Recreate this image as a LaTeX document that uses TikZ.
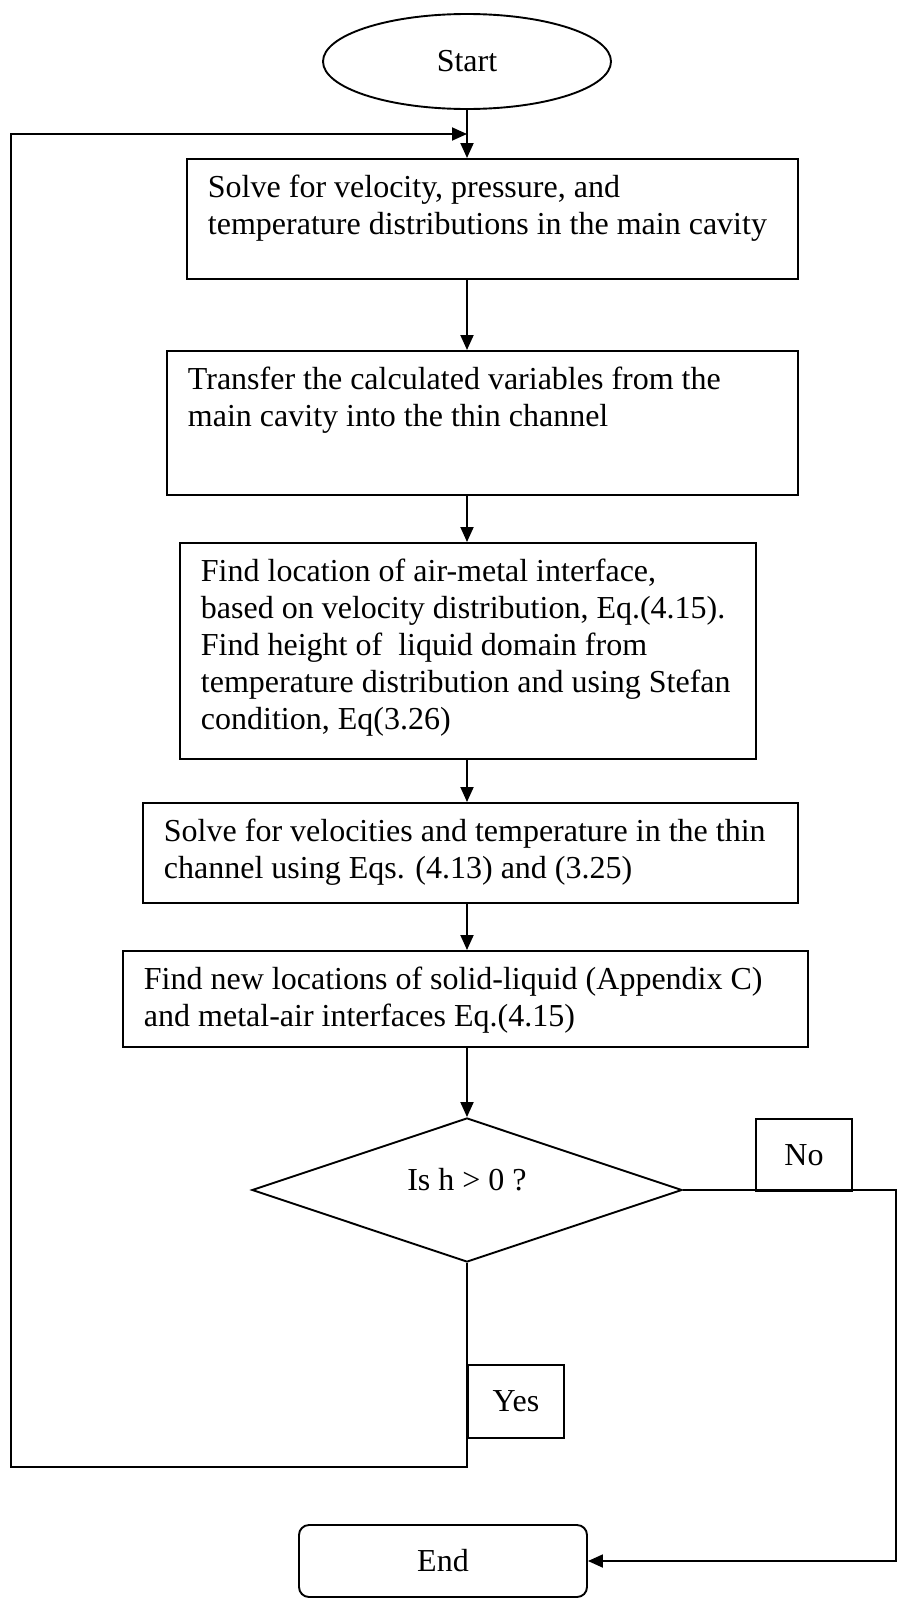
\documentclass[tikz,border=0pt]{standalone}
\usepackage{fontspec}
\setmainfont{Liberation Serif}
\usetikzlibrary{arrows.meta,positioning,shapes.geometric}

\begin{document}
\begin{tikzpicture}[
  x=1pt, y=-1pt,
  font=\fontsize{32}{37}\selectfont,
  line width=1.9pt,
  proc/.style={draw, line width=1.9pt, anchor=north west, inner sep=0pt},
  txt/.style={anchor=base west, inner sep=0pt, align=left},
  tag/.style={draw, line width=1.9pt, anchor=north west, inner sep=0pt,
              minimum width=96pt, minimum height=72pt},
  arr/.style={-{Triangle[length=15pt,width=13pt]}, line width=1.9pt}
]
\useasboundingbox (0,0) rectangle (899,1606);

% Terminals
\node[draw, ellipse, minimum width=288pt, minimum height=95pt, inner sep=0pt] (start) at (467,61.5) {Start};
\node[draw, rounded corners=10pt, minimum width=288pt, minimum height=72pt, inner sep=0pt] (stop) at (443,1561) {End};

% Process boxes, text set at the top left (base = last line)
\node[proc, minimum width=611pt, minimum height=120pt] (b1) at (186,158) {};
\node[txt] (t1) at ([xshift=21pt,yshift=-76pt]b1.north west)
  {Solve for velocity, pressure, and\\temperature distributions in the main cavity};

\node[proc, minimum width=631pt, minimum height=144pt] (b2) at (166,350) {};
\node[txt] (t2) at ([xshift=21pt,yshift=-76pt]b2.north west)
  {Transfer the calculated variables from the\\main cavity into the thin channel};

\node[proc, minimum width=576pt, minimum height=216pt] (b3) at (179,542) {};
\node[txt] (t3) at ([xshift=21pt,yshift=-187pt]b3.north west)
  {Find location of air-metal interface,\\based on velocity distribution, Eq.(4.15).\\Find height of\ \ liquid domain from\\temperature distribution and using Stefan\\condition, Eq(3.26)};

\node[proc, minimum width=655pt, minimum height=100pt] (b4) at (142,802) {};
\node[txt] (t4) at ([xshift=21pt,yshift=-76pt]b4.north west)
  {Solve for velocities and temperature in the thin\\channel using Eqs. (4.13) and (3.25)};

\node[proc, minimum width=685pt, minimum height=96pt] (b5) at (122,950) {};
\node[txt] (t5) at ([xshift=21pt,yshift=-76pt]b5.north west)
  {Find new locations of solid-liquid (Appendix C)\\and metal-air interfaces Eq.(4.15)};

% Decision
\node[draw, diamond, minimum width=430pt, minimum height=144pt, inner sep=0pt] (dec) at (467,1190) {};
\node (q) at (467,1180) {Is h > 0 ?};
\node[tag] (no) at (755,1118) {No};
\node[tag, minimum height=73pt] (yes) at (467,1364) {Yes};

% Main spine
\draw[arr] (start.south) -- (b1.north -| start.south);
\draw[arr] (b1.south -| start.south) -- (b2.north -| start.south);
\draw[arr] (b2.south -| start.south) -- (b3.north -| start.south);
\draw[arr] (b3.south -| start.south) -- (b4.north -| start.south);
\draw[arr] (b4.south -| start.south) -- (b5.north -| start.south);
\draw[arr] (b5.south -| start.south) -- (dec.north);

% No: to End
\coordinate (rc) at (896,1190);
\draw[arr] (dec.east) -- (rc) |- (stop.east);

% Yes: loop back
\coordinate (lb) at (11,1467);
\coordinate (lt) at (11,134);
\coordinate (jn) at (467,134);
\draw[arr] (dec.south) |- (lb) -- (lt) -- (jn);

\end{tikzpicture}
\end{document}
